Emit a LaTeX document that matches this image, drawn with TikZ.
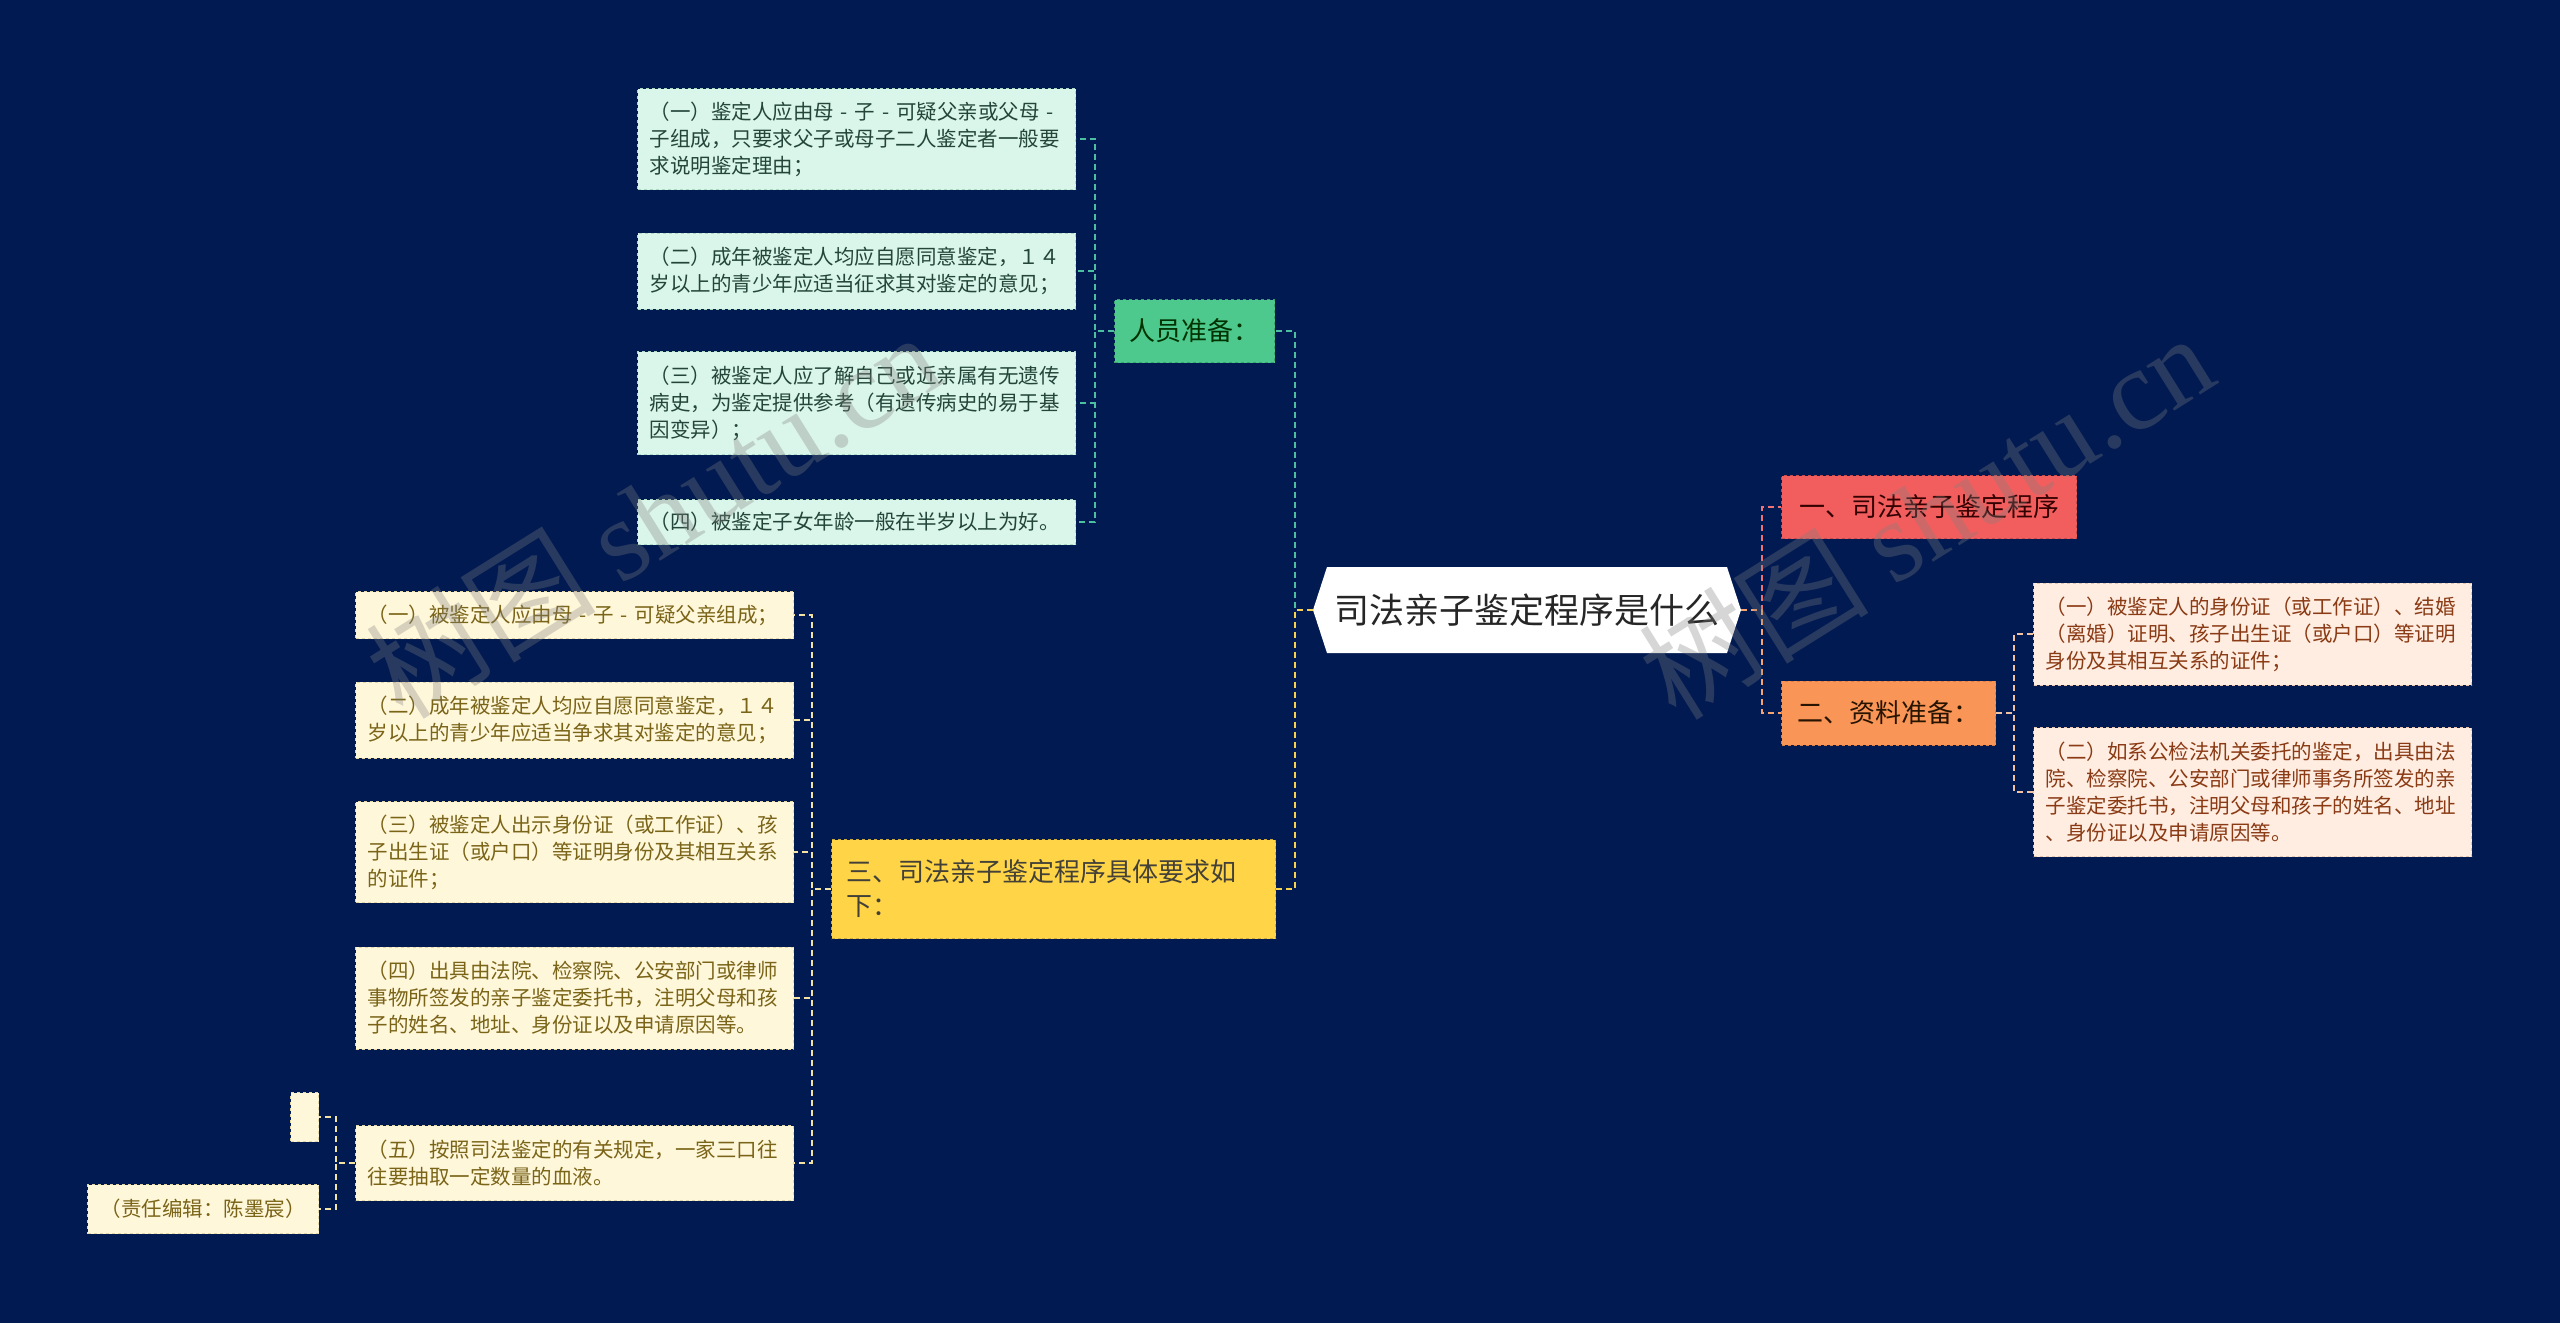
\documentclass[tikz,border=0pt]{standalone}
\usepackage{fontspec}
\setmainfont{Noto Sans CJK SC}
\newfontfamily\wmserif{Liberation Serif}
\definecolor{bg}{HTML}{011A52}
\definecolor{gbox}{HTML}{4DC98E}
\definecolor{gleaf}{HTML}{DAF5E9}
\definecolor{gleafb}{HTML}{A9D9C3}
\definecolor{gtext}{HTML}{24463A}
\definecolor{gline}{HTML}{4CBFA0}
\definecolor{rbox}{HTML}{F25E5E}
\definecolor{rline}{HTML}{F07272}
\definecolor{obox}{HTML}{F99556}
\definecolor{oline}{HTML}{F6A36E}
\definecolor{pleaf}{HTML}{FFEDE1}
\definecolor{pleafb}{HTML}{E7C4AE}
\definecolor{ptext}{HTML}{8A3A14}
\definecolor{pline}{HTML}{F2C3A2}
\definecolor{ybox}{HTML}{FFD547}
\definecolor{yline}{HTML}{F7D24E}
\definecolor{cleaf}{HTML}{FFF7DA}
\definecolor{cleafb}{HTML}{E3D6A6}
\definecolor{ctext}{HTML}{7A6418}
\definecolor{cline}{HTML}{F2E2A4}
\tikzset{
  conn/.style={line width=2pt, dash pattern=on 6pt off 4pt},
  leafbase/.style={dashed, line width=1pt, text width=414pt, align=left,
    inner xsep=12pt, inner ysep=0pt, font=\fontsize{20.5}{27}\selectfont},
  leafg/.style={leafbase, draw=gleafb, fill=gleaf, text=gtext, anchor=east},
  leafc/.style={leafbase, draw=cleafb, fill=cleaf, text=ctext, anchor=east},
  leafp/.style={leafbase, draw=pleafb, fill=pleaf, text=ptext, anchor=west},
  midbox/.style={dashed, line width=1pt, inner ysep=0pt, minimum height=63pt,
    font=\fontsize{26}{34}\selectfont},
  wm/.style={text=gray, opacity=0.32, font=\fontsize{115}{120}\selectfont, inner sep=0pt},
}
\begin{document}
\begin{tikzpicture}[x=1pt,y=-1pt]
\fill[bg] (0,0) rectangle (2560,1323);
\useasboundingbox (0,0) rectangle (2560,1323);

% root
\fill[white] (1313,610) -- (1327,567) -- (1727,567) -- (1741,610) -- (1727,653) -- (1327,653) -- cycle;
\node[minimum width=400pt, minimum height=86pt, inner sep=0pt, text=black!85,
  font=\fontsize{35}{40}\selectfont] (root) at (1527,610) {司法亲子鉴定程序是什么};
\coordinate (rootW) at (1313,610);
\coordinate (rootE) at (1741,610);

% right main branches
\node[midbox, fill=rbox, draw=rbox!80!black, text=black!80!red, anchor=west,
  minimum width=295pt, minimum height=63pt] (one) at (1781,507) {一、司法亲子鉴定程序};
\node[midbox, fill=obox, draw=obox!85!black, text=black!85!orange, anchor=west,
  minimum width=214pt, minimum height=64pt] (two) at (1781,713) {二、资料准备：};

% peach leaves
\node[leafp, minimum height=102pt] (p1) at (2033,634)
  {（一）被鉴定人的身份证（或工作证）、结婚\\（离婚）证明、孩子出生证（或户口）等证明\\身份及其相互关系的证件；};
\node[leafp, minimum height=129pt] (p2) at (2033,792)
  {（二）如系公检法机关委托的鉴定，出具由法\\院、检察院、公安部门或律师事务所签发的亲\\子鉴定委托书，注明父母和孩子的姓名、地址\\、身份证以及申请原因等。};

% left main branches
\node[midbox, fill=gbox, draw=gbox!80!black, text=black!80!green, anchor=east,
  minimum width=160pt, minimum height=63pt] (pers) at (1275,331) {人员准备：};
\node[midbox, fill=ybox, draw=ybox!80!black, text=black!85!yellow, anchor=east,
  text width=414pt, align=left, inner xsep=15pt, minimum height=99pt] (three) at (1276,889)
  {三、司法亲子鉴定程序具体要求如\\下：};

% green leaves
\node[leafg, minimum height=101pt] (g1) at (1076,139)
  {（一）鉴定人应由母 - 子 - 可疑父亲或父母 -\\子组成，只要求父子或母子二人鉴定者一般要\\求说明鉴定理由；};
\node[leafg, minimum height=76pt] (g2) at (1076,271)
  {（二）成年被鉴定人均应自愿同意鉴定，１４\\岁以上的青少年应适当征求其对鉴定的意见；};
\node[leafg, minimum height=103pt] (g3) at (1076,403)
  {（三）被鉴定人应了解自己或近亲属有无遗传\\病史，为鉴定提供参考（有遗传病史的易于基\\因变异）；};
\node[leafg, minimum height=45pt] (g4) at (1076,522)
  {（四）被鉴定子女年龄一般在半岁以上为好。};

% cream leaves
\node[leafc, minimum height=47pt] (c1) at (794,615)
  {（一）被鉴定人应由母 - 子 - 可疑父亲组成；};
\node[leafc, minimum height=76pt] (c2) at (794,720)
  {（二）成年被鉴定人均应自愿同意鉴定，１４\\岁以上的青少年应适当争求其对鉴定的意见；};
\node[leafc, minimum height=101pt] (c3) at (794,852)
  {（三）被鉴定人出示身份证（或工作证）、孩\\子出生证（或户口）等证明身份及其相互关系\\的证件；};
\node[leafc, minimum height=102pt] (c4) at (794,998)
  {（四）出具由法院、检察院、公安部门或律师\\事物所签发的亲子鉴定委托书，注明父母和孩\\子的姓名、地址、身份证以及申请原因等。};
\node[leafc, minimum height=75pt] (c5) at (794,1163)
  {（五）按照司法鉴定的有关规定，一家三口往\\往要抽取一定数量的血液。};

% small nodes
\node[dashed, line width=1pt, draw=cleafb, fill=cleaf, minimum width=28pt, minimum height=49pt,
  inner sep=0pt, anchor=east] (blank) at (319,1117) {};
\node[dashed, line width=1pt, draw=cleafb, fill=cleaf, text=ctext, minimum width=231pt,
  minimum height=49pt, inner sep=0pt, anchor=east, font=\fontsize{20.5}{27}\selectfont] (editor) at (319,1209)
  {（责任编辑：陈墨宸）};

% connectors
\draw[conn, gline] (rootW) -- ++(-18,0) |- (pers.east);
\draw[conn, yline] (rootW) -- ++(-18,0) |- (three.east);
\draw[conn, rline] (rootE) -- ++(21,0) |- (one.west);
\draw[conn, oline] (rootE) -- ++(21,0) |- (two.west);
\foreach \n in {p1,p2} \draw[conn, pline] (two.east) -- ++(18,0) |- (\n.west);
\foreach \n in {g1,g2,g3,g4} \draw[conn, gline] (pers.west) -- ++(-19,0) |- (\n.east);
\foreach \n in {c1,c2,c3,c4,c5} \draw[conn, cline] (three.west) -- ++(-19,0) |- (\n.east);
\foreach \n in {blank,editor} \draw[conn, cline] (c5.west) -- ++(-19,0) |- (\n.east);

% watermarks
\node[wm, rotate=32] (wm1) at (653,514) {树图 {\wmserif shutu.cn}};
\node[wm, rotate=32] (wm2) at (1926,515) {树图 {\wmserif shutu.cn}};
\end{tikzpicture}
\end{document}
